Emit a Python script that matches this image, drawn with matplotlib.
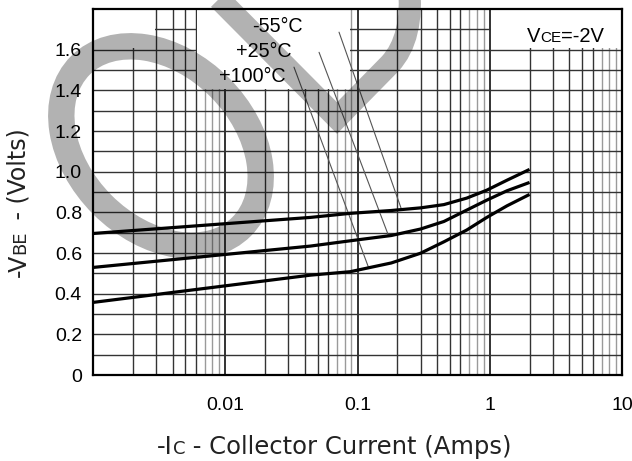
import matplotlib
matplotlib.use("Agg")
import matplotlib.pyplot as plt
import numpy as np
from matplotlib.patches import Ellipse, Rectangle
from matplotlib.path import Path

plt.rcParams["font.family"] = ["Liberation Sans", "DejaVu Sans"]

# -Ic (A) against -VBE (V), VCE = -2 V
ic = [0.001, 0.044, 0.088, 0.18, 0.3, 0.45, 0.67, 0.95, 1.35, 2.0]
vbe_m55 = [0.696, 0.775, 0.795, 0.809, 0.822, 0.838, 0.870, 0.909, 0.958, 1.011]
vbe_p25 = [0.529, 0.634, 0.660, 0.686, 0.718, 0.755, 0.811, 0.860, 0.906, 0.947]
vbe_p100 = [0.357, 0.491, 0.508, 0.551, 0.599, 0.655, 0.713, 0.775, 0.832, 0.888]

temp_labels = ["-55°C", "+25°C", "+100°C"]
label_pos = [(0.0387, 1.686), (0.032, 1.563), (0.0288, 1.44)]
leader_from = [(0.0725, 1.686), (0.0512, 1.587), (0.0331, 1.514)]
leader_to = [(0.215, 0.815), (0.171, 0.688), (0.121, 0.53)]

xticks = [0.01, 0.1, 1, 10]
xticklabels = ["0.01", "0.1", "1", "10"]
yticks = [0, 0.2, 0.4, 0.6, 0.8, 1.0, 1.2, 1.4, 1.6]
yticklabels = ["0", "0.2", "0.4", "0.6", "0.8", "1.0", "1.2", "1.4", "1.6"]

W, H = 632, 461
fig = plt.figure(figsize=(W / 100, H / 100), dpi=100)
ax = fig.add_axes([93 / W, 86 / H, 529 / W, 366 / H])
ax.set_xscale("log")
ax.set_xlim(0.001, 10)
ax.set_ylim(0, 1.8)

# log graph-paper grid
for dec in [0.001, 0.01, 0.1, 1]:
    for m in range(1, 10):
        if m == 1:
            c, lw = "#111111", 1.2
        elif m <= 6:
            c, lw = "#333333", 1.0
        else:
            c, lw = "#9a9a9a", 1.0
        ax.axvline(dec * m, color=c, lw=lw, zorder=0.8)
for v in np.arange(0.1, 1.75, 0.1):
    ax.axhline(v, color="#333333", lw=1.0, zorder=0.8)

# blank areas of the grid behind the labels
for (x0, x1, y0) in [(0.001, 0.003, 1.6), (0.006, 0.09, 1.4), (1.0, 10, 1.6)]:
    ax.add_patch(Rectangle((x0 * 1.02, y0 + 0.006), x1 / 1.02 - x0 * 1.02,
                           1.8 - y0, facecolor="white", edgecolor="none",
                           zorder=1))

for vals in (vbe_m55, vbe_p25, vbe_p100):
    ax.plot(ic, vals, color="black", lw=2.3, solid_joinstyle="round",
            solid_capstyle="butt", zorder=3)

for lab, (tx, ty), p0, p1 in zip(temp_labels, label_pos, leader_from, leader_to):
    ax.text(tx, ty, lab, ha="right", va="baseline", fontsize=14.2, zorder=4)
    ax.annotate("", xy=p1, xytext=p0,
                arrowprops=dict(arrowstyle="-", color="#555555", lw=0.8,
                                shrinkA=0, shrinkB=0), zorder=2)

# VCE=-2V with small-cap subscript
t1 = ax.text(1.91, 1.636, "V", ha="left", va="baseline", fontsize=14.5, zorder=4)
t2 = ax.annotate("CE", xy=(1, 0), xycoords=t1, xytext=(0, 0.7),
                 textcoords="offset points", ha="left", va="bottom",
                 fontsize=11, zorder=4)
ax.annotate("=-2V", xy=(1, 0), xycoords=t2, xytext=(0, -0.7),
            textcoords="offset points", ha="left", va="bottom",
            fontsize=14.5, zorder=4)

ax.set_xticks(xticks)
ax.set_xticklabels(xticklabels)
ax.set_yticks(yticks)
ax.set_yticklabels(yticklabels)
ax.xaxis.set_minor_locator(matplotlib.ticker.NullLocator())
ax.tick_params(axis="both", length=0, labelsize=14)
ax.tick_params(axis="x", pad=16)
ax.tick_params(axis="y", pad=8)
for s in ax.spines.values():
    s.set_linewidth(1.6)
    s.set_color("black")
    s.set_zorder(5)

# axis titles (DejaVu metrics match the scan best)
lab_font = dict(family="DejaVu Sans", color="#222222")
x1 = fig.text(157 / W, 1 - 454 / H, "-I", ha="left", va="baseline",
              fontsize=17.5, **lab_font)
x2 = ax.annotate("C", xy=(1, 0), xycoords=x1, xytext=(0, 1.0),
                 textcoords="offset points", ha="left", va="bottom",
                 fontsize=13, **lab_font)
ax.annotate(" - Collector Current (Amps)", xy=(1, 0), xycoords=x2,
            xytext=(0, -1.0), textcoords="offset points", ha="left",
            va="bottom", fontsize=17.5, **lab_font)

y1 = fig.text(30.5 / W, 1 - 277 / H, "-V", rotation=90, ha="right",
              va="bottom", fontsize=17, **lab_font)
y2 = ax.annotate("BE", xy=(1, 1), xycoords=y1, xytext=(-1.0, 0),
                 textcoords="offset points", rotation=90, ha="right",
                 va="bottom", fontsize=13, **lab_font)
ax.annotate(" - (Volts)", xy=(1, 1), xycoords=y2, xytext=(1.0, 2),
            textcoords="offset points", rotation=90, ha="right",
            va="bottom", fontsize=17, **lab_font)

# grey watermark strokes over the whole sheet (pixel coordinates, y down)
wm = fig.add_axes([0, 0, 1, 1], zorder=10)
wm.set_xlim(0, W)
wm.set_ylim(H, 0)
wm.axis("off")
wm.patch.set_alpha(0)
wm.add_patch(Ellipse((161, 146), 228, 166, angle=45, fill=False,
                     edgecolor="black", alpha=0.3, lw=19))
vpath = Path([(205, -15), (337, 118), (390, 64), (414, 38), (409, -15)],
             [Path.MOVETO, Path.LINETO, Path.LINETO, Path.CURVE3, Path.CURVE3])
vline = vpath.to_polygons(closed_only=False)[0]
wm.plot(vline[:, 0], vline[:, 1], color="black", alpha=0.3, lw=16,
        solid_joinstyle="miter", solid_capstyle="butt")

fig.savefig("out.png", dpi=100, facecolor="white")
